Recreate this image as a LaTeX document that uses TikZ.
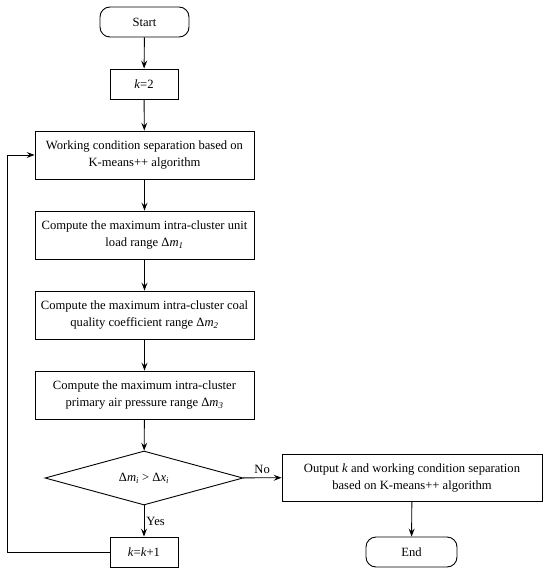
\documentclass[tikz,border=0pt]{standalone}
\usepackage{fontspec}
\setmainfont{Liberation Serif}
\usetikzlibrary{shapes.geometric,arrows.meta}
\begin{document}
\begin{tikzpicture}[x=1pt,y=-1pt,
  every node/.style={font=\fontsize{12.6}{17}\selectfont, line width=0.9pt},
  box/.style={draw, rectangle, align=center, inner sep=0pt},
  wide/.style={box, minimum width=219pt, minimum height=48pt},
  small/.style={box, minimum width=68pt, minimum height=30pt},
  term/.style={draw, rectangle, rounded corners=10pt, minimum height=30pt, inner sep=0pt},
  dec/.style={draw, diamond, aspect=3.6, minimum width=198pt, minimum height=54pt, inner sep=0pt},
  arr/.style={line width=0.9pt, -{Stealth[length=8pt,width=6pt,inset=3pt]}},
  lbl/.style={font=\fontsize{12.6}{15}\selectfont}]
\useasboundingbox (0,0) rectangle (550,576);
\node[term, minimum width=89pt] (start) at (144.5,22) {Start};
\node[small] (k2) at (144,84) {\textit{k}=2};
\node[wide] (b1) at (144.5,155) {Working condition separation based on\\K-means++ algorithm};
\node[wide] (b2) at (144.5,235) {Compute the maximum intra-cluster unit\\load range Δ\textit{m}\textsubscript{\textit{1}}};
\node[wide] (b3) at (144.5,315) {Compute the maximum intra-cluster coal\\quality coefficient range Δ\textit{m}\textsubscript{\textit{2}}};
\node[wide] (b4) at (144.5,395) {Compute the maximum intra-cluster\\primary air pressure range Δ\textit{m}\textsubscript{\textit{3}}};
\node[dec] (d) at (144,478) {Δ\textit{m}\textsubscript{\textit{i}} > Δ\textit{x}\textsubscript{\textit{i}}};
\node[small] (kk) at (144,552) {\textit{k}=\textit{k}+1};
\node[box, minimum width=260pt, minimum height=47pt] (out) at (412,477.5) {Output \textit{k} and working condition separation\\based on K-means++ algorithm};
\node[term, minimum width=91pt] (end) at (411.5,552) {End};
\coordinate (lp) at (7,552);
\draw[arr] (start) -- (k2);
\draw[arr] (k2) -- (b1);
\draw[arr] (b1) -- (b2);
\draw[arr] (b2) -- (b3);
\draw[arr] (b3) -- (b4);
\draw[arr] (b4) -- (d);
\draw[arr] (d) -- node[lbl, above] {No} (out);
\draw[arr] (d) -- node[lbl, right, inner sep=2pt] {Yes} (kk);
\draw[arr] (out) -- (end);
\draw[arr] (kk.west) -- (lp) |- (b1.west);
\end{tikzpicture}
\end{document}
